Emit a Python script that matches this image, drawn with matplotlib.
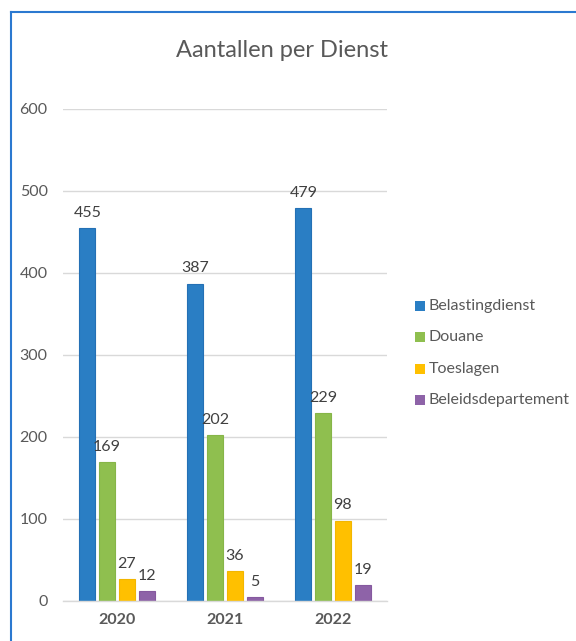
import numpy as np
import matplotlib
matplotlib.use("Agg")
import matplotlib.pyplot as plt
from matplotlib.lines import Line2D
from matplotlib.patches import Rectangle

# data
years = ["2020", "2021", "2022"]
series_names = ["Belastingdienst", "Douane", "Toeslagen", "Beleidsdepartement"]
belastingdienst = [455, 387, 479]
douane = [169, 202, 229]
toeslagen = [27, 36, 98]
beleidsdepartement = [12, 5, 19]

colors = ["#2A7EC4", "#8FBF4F", "#FFC000", "#8E63A8"]
edges = ["#2470B5", "#86B548", "#F2B600", "#85599F"]
grey = "#595959"

plt.rcParams["font.family"] = ["Lato", "DejaVu Sans"]

fig = plt.figure(figsize=(5.76, 6.41), dpi=100)
W, H = 576, 641
ax = fig.add_axes([63 / W, 40 / H, (387 - 63) / W, (532 - 40) / H])

values = [belastingdienst, douane, toeslagen, beleidsdepartement]
x = np.arange(len(years))
bw = 0.15
step = 0.183
offsets = (np.arange(4) - 1.5) * step

for i, vals in enumerate(values):
    bars = ax.bar(x + offsets[i], vals, width=bw, color=colors[i],
                  edgecolor=edges[i], linewidth=0.8, zorder=3,
                  label=series_names[i])
    for b, v in zip(bars, vals):
        ax.annotate(str(v), (b.get_x() + b.get_width() / 2, v),
                    xytext=(0, 6), textcoords="offset points",
                    ha="center", va="bottom", fontsize=11.5, color="#404040")

ax.set_xlim(-0.5, 2.5)
ax.set_ylim(0, 600)
ax.set_yticks(range(0, 601, 100))
ax.grid(axis="y", color="#D9D9D9", linewidth=1, zorder=0)
for s in ["top", "right", "left"]:
    ax.spines[s].set_visible(False)
ax.spines["bottom"].set_color("#D9D9D9")
ax.spines["bottom"].set_linewidth(1)
ax.spines["bottom"].set_zorder(4)
ax.set_xticks(x)
ax.set_xticklabels(years, fontweight="bold")
ax.tick_params(axis="both", length=0, labelsize=11.5, colors=grey)
ax.tick_params(axis="y", pad=11)
ax.tick_params(axis="x", pad=9)

fig.text(282 / W, 1 - 57 / H, "Aantallen per Dienst", ha="center",
         va="baseline", fontsize=17, color=grey)

# legend drawn by hand to match the excel layout
leg_y = [306, 337, 369, 400]
for name, c, ly in zip(series_names, colors, leg_y):
    fig.patches.append(Rectangle((415 / W, 1 - (ly + 5) / H), 10 / W, 10 / H,
                                 transform=fig.transFigure, facecolor=c,
                                 edgecolor="none"))
    fig.text(429 / W, 1 - ly / H, name, ha="left", va="center",
             fontsize=11.5, color=grey)

# selection border of the chart (only left and top visible)
fig.add_artist(Line2D([10.5 / W, 10.5 / W], [0, 1 - 12 / H],
                      transform=fig.transFigure, color="#2B79D0", lw=1.5))
fig.add_artist(Line2D([10.5 / W, 1], [1 - 12 / H, 1 - 12 / H],
                      transform=fig.transFigure, color="#2B79D0", lw=1.5))

fig.savefig("out.png", dpi=100)
